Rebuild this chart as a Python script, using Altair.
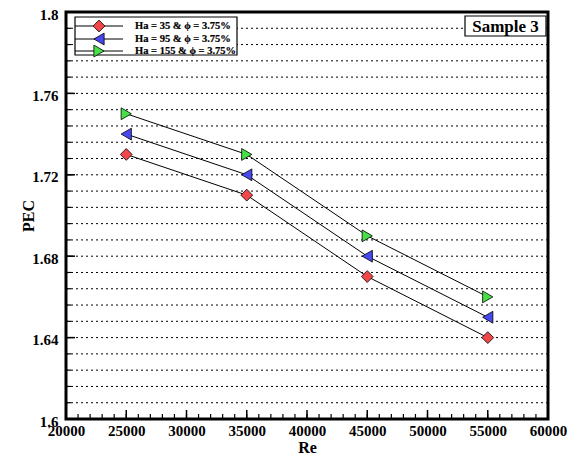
import altair as alt
import pandas as pd

# ---- data ----
re_vals = [25000, 35000, 45000, 55000]
pec_ha35 = [1.73, 1.71, 1.67, 1.64]
pec_ha95 = [1.74, 1.72, 1.68, 1.65]
pec_ha155 = [1.75, 1.73, 1.69, 1.66]
series_labels = ["Ha = 35 & ϕ = 3.75%", "Ha = 95 & ϕ = 3.75%", "Ha = 155 & ϕ = 3.75%"]
series_colors = ["#f04848", "#4848f0", "#48e048"]
series_shapes = ["diamond", "triangle-left", "triangle-right"]

x_major = [20000, 25000, 30000, 35000, 40000, 45000, 50000, 55000, 60000]
x_minor = list(range(21000, 60000, 1000))
y_major = [1.6, 1.64, 1.68, 1.72, 1.76, 1.8]
y_minor = [round(1.6 + 0.008 * i, 3) for i in range(1, 25)]

W, H = 482, 407
FONT = "Liberation Serif"

rows = []
for lab, vals in zip(series_labels, [pec_ha35, pec_ha95, pec_ha155]):
    for r, v in zip(re_vals, vals):
        rows.append({"Re": r, "PEC": v, "series": lab})
df = pd.DataFrame(rows)

xs = alt.Scale(domain=[20000, 60000], nice=False, zero=False)
ys = alt.Scale(domain=[1.6, 1.8], nice=False, zero=False)
xaxis = alt.Axis(values=x_major, title="Re", ticks=False, domain=False, grid=False,
                 labelFlush=False, labelPadding=4, titleY=20, format="d",
                 labelFont=FONT, labelFontWeight=700, labelFontSize=15, labelColor="black",
                 titleFont=FONT, titleFontWeight=700, titleFontSize=16, titleColor="black")
yaxis = alt.Axis(values=y_major, title="PEC", ticks=False, domain=False, grid=False,
                 labelPadding=8, format=".2~f", titleX=-30, labelOffset=2,
                 labelFont=FONT, labelFontWeight=700, labelFontSize=15, labelColor="black",
                 titleFont=FONT, titleFontWeight=700, titleFontSize=16, titleColor="black")

grid = alt.Chart(pd.DataFrame({"y": y_minor})).mark_rule(
    color="black", strokeDash=[2, 3], strokeWidth=1
).encode(y=alt.Y("y:Q", scale=ys, axis=yaxis), x=alt.value(0), x2=alt.value(W))

ytick_major = alt.Chart(pd.DataFrame({"y": y_major})).mark_rule(color="black", strokeWidth=1.5).encode(
    y=alt.Y("y:Q", scale=ys, axis=yaxis), x=alt.value(0), x2=alt.value(9))
ytick_minor = alt.Chart(pd.DataFrame({"y": y_minor})).mark_rule(color="black", strokeWidth=1.2).encode(
    y=alt.Y("y:Q", scale=ys, axis=yaxis), x=alt.value(0), x2=alt.value(5))
xtick_major = alt.Chart(pd.DataFrame({"x": x_major})).mark_rule(color="black", strokeWidth=1.5).encode(
    x=alt.X("x:Q", scale=xs, axis=xaxis), y=alt.value(H), y2=alt.value(H - 9))
xtick_minor = alt.Chart(pd.DataFrame({"x": x_minor})).mark_rule(color="black", strokeWidth=1.2).encode(
    x=alt.X("x:Q", scale=xs, axis=xaxis), y=alt.value(H), y2=alt.value(H - 5))

lines = alt.Chart(df).mark_line(color="black", strokeWidth=1).encode(
    x=alt.X("Re:Q", scale=xs, axis=xaxis),
    y=alt.Y("PEC:Q", scale=ys, axis=yaxis),
    detail="series:N",
)
points = alt.Chart(df).mark_point(filled=True, size=140, stroke="black", strokeWidth=0.8, opacity=1).encode(
    x=alt.X("Re:Q", scale=xs, axis=xaxis),
    y=alt.Y("PEC:Q", scale=ys, axis=yaxis),
    fill=alt.Fill("series:N", scale=alt.Scale(domain=series_labels, range=series_colors), legend=None),
    shape=alt.Shape("series:N", scale=alt.Scale(domain=series_labels, range=series_shapes), legend=None),
)

one = pd.DataFrame({"a": [0]})
legend_layers = [
    alt.Chart(one).mark_rect(fill="white", stroke="black", strokeWidth=1.2).encode(
        x=alt.value(9), x2=alt.value(171), y=alt.value(5), y2=alt.value(43))
]
row_y = [14, 27, 39]
for lab, col, shp, ry in zip(series_labels, series_colors, series_shapes, row_y):
    legend_layers.append(alt.Chart(one).mark_rule(color="black", strokeWidth=1).encode(
        x=alt.value(9), x2=alt.value(57), y=alt.value(ry)))
    legend_layers.append(alt.Chart(one).mark_point(
        filled=True, size=140, fill=col, stroke="black", strokeWidth=0.8, opacity=1, shape=shp
    ).encode(x=alt.value(33), y=alt.value(ry)))
    legend_layers.append(alt.Chart(one).mark_text(
        text=lab, font=FONT, fontWeight="bold", fontSize=10.5, align="left", baseline="middle",
        color="black", stroke="black", strokeWidth=0.2
    ).encode(x=alt.value(69), y=alt.value(ry)))

sample_box = alt.Chart(one).mark_rect(fill="white", stroke="black", strokeWidth=1.2).encode(
    x=alt.value(399), x2=alt.value(480), y=alt.value(4), y2=alt.value(24))
sample_text = alt.Chart(one).mark_text(
    text="Sample 3", font=FONT, fontWeight="bold", fontSize=17, align="center", baseline="middle", color="black"
).encode(x=alt.value(439.5), y=alt.value(14.5))

chart = alt.layer(
    grid, ytick_minor, ytick_major, xtick_minor, xtick_major, lines, points,
    *legend_layers, sample_box, sample_text
).properties(
    width=W, height=H, autosize="none",
    padding={"left": 58, "top": 4, "right": 19, "bottom": 35},
).configure_view(stroke="black", strokeWidth=3)

chart.save("out.html", embed_options={"renderer": "svg", "actions": False})
